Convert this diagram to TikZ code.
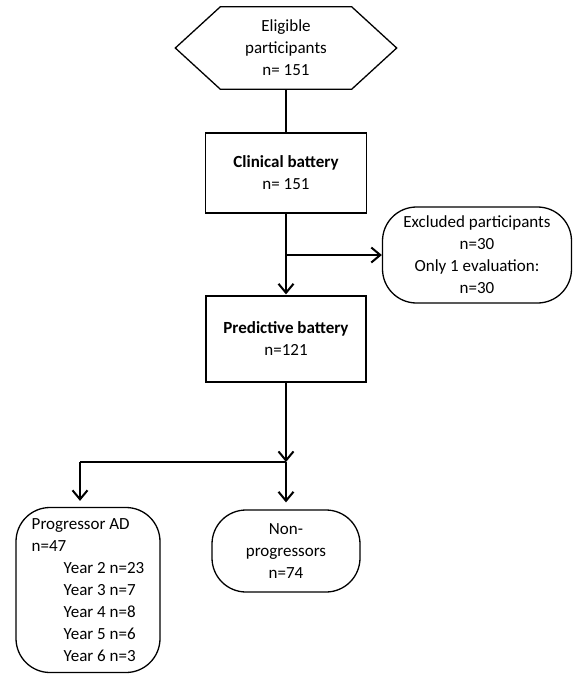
\documentclass[tikz,border=0pt]{standalone}
\usepackage{fontspec}
\setmainfont{Carlito}
\usetikzlibrary{arrows.meta,positioning}

\begin{document}
\begin{tikzpicture}[x=1pt,y=-1pt,
  box/.style={draw=black,line width=1.3pt,align=center,inner sep=2pt},
  rbox/.style={box,rounded corners=34pt},
  conn/.style={draw=black,line width=2.6pt,-{Straight Barb[length=9pt,width=15pt,line width=2pt]}},
  trunk/.style={draw=black,line width=2.6pt}]
\tikzstyle{every node}+=[font=\fontsize{17}{22}\selectfont]
\useasboundingbox (0,0) rectangle (576,675);
\node (elig) [minimum width=221pt,minimum height=82pt,align=center] at (286,48) {Eligible\\participants\\n= 151};
\draw [black,line width=1.3pt] (elig.west) -- ([xshift=45pt]elig.north west) -- ([xshift=-45pt]elig.north east)
  -- (elig.east) -- ([xshift=-45pt]elig.south east) -- ([xshift=45pt]elig.south west) -- cycle;
\node (clin) [box,minimum width=161pt,minimum height=80pt] at (286,173) {\textbf{Clinical battery}\\n= 151};
\node (excl) [rbox,minimum width=189pt,minimum height=96pt] at (477,255) {Excluded participants\\n=30\\Only 1 evaluation:\\n=30};
\node (pred) [box,minimum width=160pt,minimum height=86pt] at (286,339) {\textbf{Predictive battery}\\n=121};
\node (prog) [rbox,minimum width=144pt,minimum height=165pt,align=left] at (88,590)
  {Progressor AD\\n=47\\\hspace*{32pt}Year 2 n=23\\\hspace*{32pt}Year 3 n=7\\\hspace*{32pt}Year 4 n=8\\\hspace*{32pt}Year 5 n=6\\\hspace*{32pt}Year 6 n=3};
\node (nonp) [rbox,minimum width=148pt,minimum height=82pt] at (286,551) {Non-\\progressors\\n=74};
\coordinate (split1) at (286,255);
\coordinate (split2) at (286,462);
\coordinate (split3) at (80,462);
% connectors
\draw [trunk] (elig.south) -- (clin.north);
\draw [conn,shorten >=1pt] (clin.south) -- (pred.north);
\draw [conn] (split1) -- (excl.west);
\draw [conn] (pred.south) -- (split2);
\draw [trunk] (split2) -- (split3);
\draw [conn,shorten >=6pt] (split3) -- (split3 |- prog.north);
\draw [conn,shorten >=7pt] (split2) -- (nonp.north);
\end{tikzpicture}
\end{document}
